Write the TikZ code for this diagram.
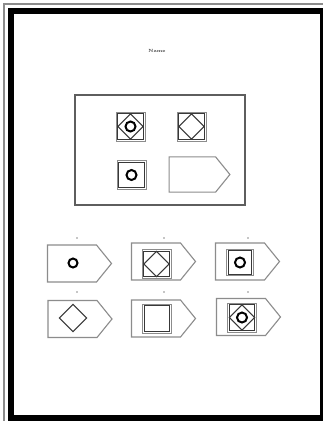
\documentclass[tikz,border=0pt]{standalone}
\usetikzlibrary{positioning}
\definecolor{inkgray}{HTML}{5E5E5E}
\definecolor{inkdark}{HTML}{383838}
\definecolor{scangray}{HTML}{8C8C8C}

\tikzset{
  plate/.pic={\draw[scangray, line width=1.1pt] (-32,-18.5) -- (17,-18.5) -- (32,0) -- (17,18.5) -- (-32,18.5) -- cycle;},
  box/.pic={\draw[scangray, line width=1pt] (-14.5,-14.5) rectangle (14.5,14.5);
            \draw[inkdark, line width=1.1pt] (-12.6,-12.6) rectangle (12.6,12.6);},
  rhomb/.pic={\draw[inkdark, line width=1.1pt] (0,-12.6) -- (12.6,0) -- (0,12.6) -- (-12.6,0) -- cycle;},
  ring/.pic={\draw[black, line width=2pt] (0,0) circle (5);},
  speck/.style={fill=scangray, minimum size=1.6pt, inner sep=0pt, circle}
}

\begin{document}
\begin{tikzpicture}[x=1pt, y=-1pt]
% page and scanner frame
\fill[white] (0,0) rectangle (323,421);
\useasboundingbox (0,0) rectangle (323,421);
\draw[scangray, line width=1.4pt] (4,421) -- (4,4) -- (323,4);
\fill[black] (8,8) rectangle (323,421);
\fill[white] (14,14) rectangle (320,415);
\node[text=inkdark, font=\fontsize{4.5}{4.5}\selectfont\bfseries] (title) at (157,51) {Name};

% matrix
\draw[inkgray, line width=1.1pt] (75,95) rectangle (245,205);
\pic at (130.5,126.5) {box};
\pic at (130.5,126.5) {rhomb};
\pic at (130.5,126.5) {ring};
\pic at (191.5,126.5) {box};
\pic at (191.5,126.5) {rhomb};
\pic at (131.5,175) {box};
\pic at (131.5,175) {ring};
\pic[scale=0.95] at (199.5,174.5) {plate};

% answer options, first row
\pic at (79.5,263.5) {plate};
\pic[scale=0.9] at (73,263) {ring};
\pic at (163.5,261.5) {plate};
\pic at (156.5,264) {box};
\pic at (156.5,264) {rhomb};
\pic at (247.5,261.5) {plate};
\pic[scale=0.93] at (240,262.5) {box};
\pic at (240,262.5) {ring};

% answer options, second row
\pic at (80,319) {plate};
\pic[scale=1.08] at (73,318) {rhomb};
\pic at (163.5,318.5) {plate};
\pic at (157,318.5) {box};
\pic at (248.5,317) {plate};
\pic at (242,317.5) {box};
\pic at (242,317.5) {rhomb};
\pic at (242,317.5) {ring};

% option numbers, too small to read
\foreach \px in {77,164,248}{
  \node[speck] at (\px,238) {};
  \node[speck] at (\px,292) {};
}
\end{tikzpicture}
\end{document}
